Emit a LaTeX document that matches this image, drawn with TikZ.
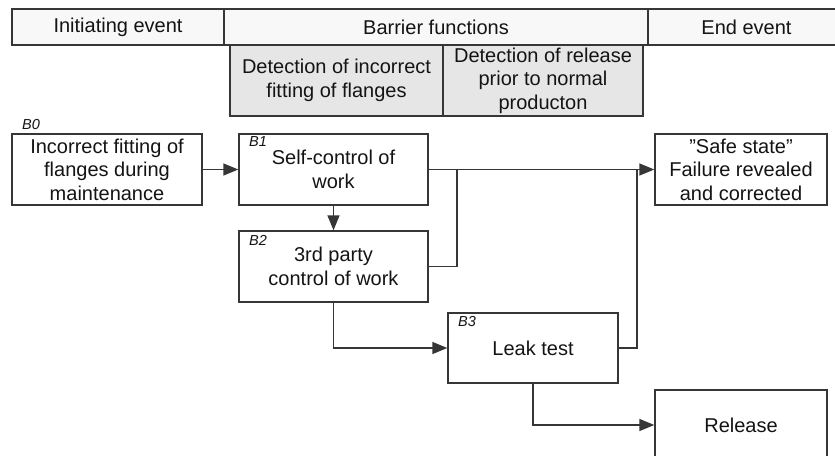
\documentclass[tikz,border=0pt]{standalone}
\usepackage{fontspec}
\setmainfont{Liberation Sans}
\usetikzlibrary{arrows.meta}
\definecolor{linec}{HTML}{363636}
\definecolor{grayfill}{HTML}{E6E6E6}
\definecolor{headfill}{HTML}{F8F8F8}
\definecolor{txt}{HTML}{141414}
\tikzset{
  box/.style={draw=linec, line width=1.4pt, fill=white, align=center, inner sep=0pt,
    font=\fontsize{20}{23.5}\selectfont, text=txt},
  head/.style={box, fill=headfill, minimum height=36pt},
  graybox/.style={box, fill=grayfill, minimum height=71pt},
  blabel/.style={anchor=west, inner sep=0pt, font=\fontsize{14.5}{15}\selectfont\itshape, text=txt},
  conn/.style={draw=linec, line width=1.4pt},
  arr/.style={conn, -{Triangle[length=15pt,width=12pt]}}
}
\begin{document}
\begin{tikzpicture}[x=1pt,y=-1pt]
\path[use as bounding box, clip] (0,0) rectangle (835,455);
\fill[white] (0,0) rectangle (835,455);
% header
\node[head, minimum width=212pt] (init) at (118,27) {Initiating event};
\node[head, minimum width=424pt] (barrier) at (436,27) {Barrier functions};
\node[head, minimum width=197pt] (endev) at (746.5,27) {End event};
% gray sub-headers
\node[graybox, minimum width=213pt] (g1) at (336.5,80.5) {Detection of incorrect\\fitting of flanges};
\node[graybox, minimum width=200pt] (g2) at (543,80.5) {Detection of release\\prior to normal\\producton};
% main boxes
\node[box, minimum width=190pt, minimum height=71pt] (b0) at (107,169.5) {Incorrect fitting of\\flanges during\\maintenance};
\node[box, minimum width=189pt, minimum height=71pt] (b1) at (333.5,169.5) {Self-control of\\work};
\node[box, minimum width=189pt, minimum height=71pt] (b2) at (333.5,266.5) {3rd party\\control of work};
\node[box, minimum width=172pt, minimum height=71pt] (safe) at (741,169.5) {”Safe state”\\Failure revealed\\and corrected};
\node[box, minimum width=170pt, minimum height=70pt] (leak) at (533,348) {Leak test};
\node[box, minimum width=172pt, minimum height=70pt] (rel) at (741,425) {Release};
% labels
\node[blabel] (lb0) at (22,125) {B0};
\node[blabel] (lb1) at (249,142) {B1};
\node[blabel] (lb2) at (249,240) {B2};
\node[blabel] (lb3) at (458,322) {B3};
% connectors
\coordinate (j1) at (457,169.5);
\coordinate (j2) at (637,169.5);
\draw[arr] (b0.east) -- (b1.west);
\draw[arr] (b1.south) -- (b2.north);
\draw[arr] (b1.east) -- (safe.west);
\draw[conn] (b2.east) -| (j1);
\draw[conn] (leak.east) -| (j2);
\draw[arr] (b2.south) |- (leak.west);
\draw[arr] (leak.south) |- (rel.west);
\end{tikzpicture}
\end{document}
